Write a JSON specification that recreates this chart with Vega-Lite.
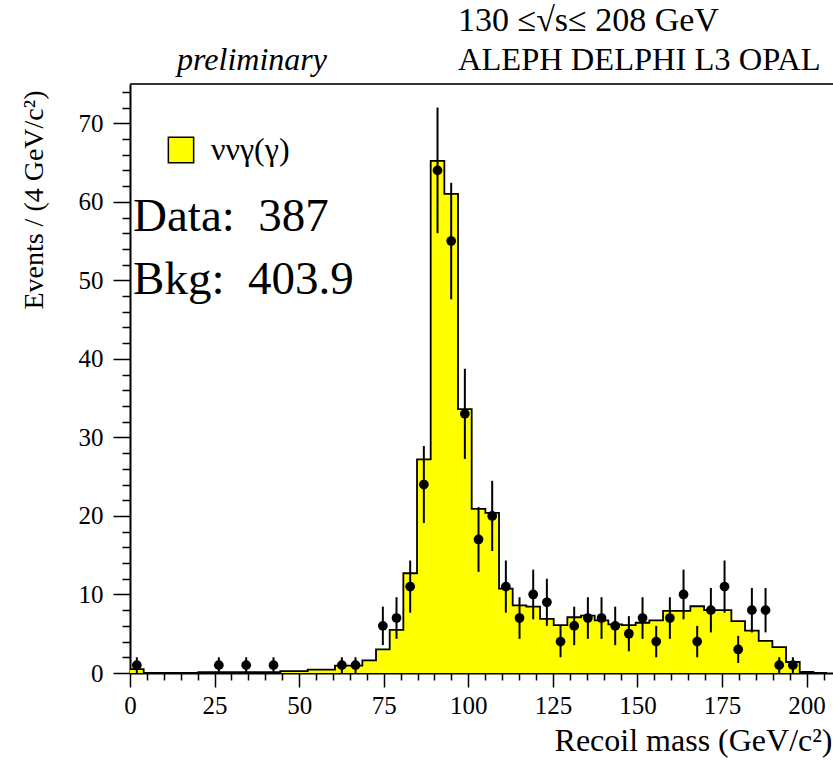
{
  "$schema": "https://vega.github.io/schema/vega-lite/v6.json",
  "width": 703,
  "height": 589,
  "autosize": {"type": "none"},
  "padding": {"left": 130, "top": 84, "right": 0, "bottom": 88},
  "background": "white",
  "config": {
    "view": {"stroke": null},
    "axis": {
      "domainColor": "black", "domainWidth": 2, "tickColor": "black", "tickWidth": 1.5,
      "labelFont": "Liberation Serif", "labelFontSize": 25, "labelColor": "black",
      "titleFont": "Liberation Serif", "titleColor": "black", "titleFontWeight": "normal",
      "grid": false, "labelFlush": false, "labelOverlap": false
    }
  },
  "datasets": {
    "bkg": [
      {"x": 0, "b": 0.5}, {"x": 4.04, "b": 0}, {"x": 8.08, "b": 0}, {"x": 12.12, "b": 0},
      {"x": 16.16, "b": 0}, {"x": 20.2, "b": 0.1}, {"x": 24.24, "b": 0.1}, {"x": 28.28, "b": 0.1},
      {"x": 32.32, "b": 0.1}, {"x": 36.36, "b": 0.1}, {"x": 40.4, "b": 0.1}, {"x": 44.44, "b": 0.25},
      {"x": 48.48, "b": 0.25}, {"x": 52.52, "b": 0.43}, {"x": 56.56, "b": 0.43}, {"x": 60.6, "b": 0.95},
      {"x": 64.64, "b": 0.95}, {"x": 68.68, "b": 1.6}, {"x": 72.72, "b": 3.0}, {"x": 76.76, "b": 5.5},
      {"x": 80.8, "b": 12.7}, {"x": 84.84, "b": 27.2}, {"x": 88.88, "b": 65.2}, {"x": 92.92, "b": 61.0},
      {"x": 96.96, "b": 33.6}, {"x": 101.0, "b": 20.9}, {"x": 105.04, "b": 20.4}, {"x": 109.08, "b": 10.75},
      {"x": 113.12, "b": 8.6}, {"x": 117.16, "b": 8.45}, {"x": 121.2, "b": 6.9}, {"x": 125.24, "b": 6.1},
      {"x": 129.28, "b": 7.1}, {"x": 133.32, "b": 7.3}, {"x": 137.36, "b": 6.7}, {"x": 141.4, "b": 6.2},
      {"x": 145.44, "b": 6.1}, {"x": 149.48, "b": 6.4}, {"x": 153.52, "b": 6.7}, {"x": 157.56, "b": 7.9},
      {"x": 161.6, "b": 7.9}, {"x": 165.64, "b": 8.5}, {"x": 169.68, "b": 8.0}, {"x": 173.72, "b": 8.0},
      {"x": 177.76, "b": 6.6}, {"x": 181.8, "b": 5.4}, {"x": 185.84, "b": 4.1}, {"x": 189.88, "b": 3.3},
      {"x": 193.92, "b": 1.4}, {"x": 197.96, "b": 0.13}, {"x": 202.0, "b": 0}, {"x": 206.04, "b": 0}
    ],
    "obs": [
      {"m": 2.02, "n": 1, "nlo": 0, "nhi": 2}, {"m": 26.26, "n": 1, "nlo": 0, "nhi": 2},
      {"m": 34.34, "n": 1, "nlo": 0, "nhi": 2}, {"m": 42.42, "n": 1, "nlo": 0, "nhi": 2},
      {"m": 62.62, "n": 1, "nlo": 0, "nhi": 2}, {"m": 66.66, "n": 1, "nlo": 0, "nhi": 2},
      {"m": 74.74, "n": 6, "nlo": 3.55, "nhi": 8.45}, {"m": 78.78, "n": 7, "nlo": 4.35, "nhi": 9.65},
      {"m": 82.82, "n": 11, "nlo": 7.68, "nhi": 14.32}, {"m": 86.86, "n": 24, "nlo": 19.1, "nhi": 28.9},
      {"m": 90.9, "n": 64, "nlo": 56, "nhi": 72}, {"m": 94.94, "n": 55, "nlo": 47.58, "nhi": 62.42},
      {"m": 98.98, "n": 33, "nlo": 27.26, "nhi": 38.74}, {"m": 103.02, "n": 17, "nlo": 12.88, "nhi": 21.12},
      {"m": 107.06, "n": 20, "nlo": 15.53, "nhi": 24.47}, {"m": 111.1, "n": 11, "nlo": 7.68, "nhi": 14.32},
      {"m": 115.14, "n": 7, "nlo": 4.35, "nhi": 9.65}, {"m": 119.18, "n": 10, "nlo": 6.84, "nhi": 13.16},
      {"m": 123.22, "n": 9, "nlo": 6, "nhi": 12}, {"m": 127.26, "n": 4, "nlo": 2, "nhi": 6},
      {"m": 131.3, "n": 6, "nlo": 3.55, "nhi": 8.45}, {"m": 135.34, "n": 7, "nlo": 4.35, "nhi": 9.65},
      {"m": 139.38, "n": 7, "nlo": 4.35, "nhi": 9.65}, {"m": 143.42, "n": 6, "nlo": 3.55, "nhi": 8.45},
      {"m": 147.46, "n": 5, "nlo": 2.76, "nhi": 7.24}, {"m": 151.5, "n": 7, "nlo": 4.35, "nhi": 9.65},
      {"m": 155.54, "n": 4, "nlo": 2, "nhi": 6}, {"m": 159.58, "n": 7, "nlo": 4.35, "nhi": 9.65},
      {"m": 163.62, "n": 10, "nlo": 6.84, "nhi": 13.16}, {"m": 167.66, "n": 4, "nlo": 2, "nhi": 6},
      {"m": 171.7, "n": 8, "nlo": 5.17, "nhi": 10.83}, {"m": 175.74, "n": 11, "nlo": 7.68, "nhi": 14.32},
      {"m": 179.78, "n": 3, "nlo": 1.27, "nhi": 4.73}, {"m": 183.82, "n": 8, "nlo": 5.17, "nhi": 10.83},
      {"m": 187.86, "n": 8, "nlo": 5.17, "nhi": 10.83}, {"m": 191.9, "n": 1, "nlo": 0, "nhi": 2},
      {"m": 195.94, "n": 1, "nlo": 0, "nhi": 2}
    ]
  },
  "resolve": {"axis": {"x": "independent", "y": "independent"}},
  "layer": [
    {
      "data": {"name": "bkg"},
      "mark": {"type": "area", "interpolate": "step-after"},
      "encoding": {
        "x": {"field": "x", "type": "quantitative",
              "scale": {"domain": [0, 207.8], "nice": false, "zero": false},
              "axis": {"orient": "bottom", "values": [0, 25, 50, 75, 100, 125, 150, 175, 200], "tickSize": 14, "labelPadding": 6,
                       "title": "Recoil mass (GeV/c²)", "titleFontSize": 32, "titleX": 702, "titleY": 77,
                       "titleAlign": "right", "titleBaseline": "alphabetic"}},
        "y": {"field": "b", "type": "quantitative",
              "scale": {"domain": [0, 75], "nice": false},
              "axis": {"orient": "left", "values": [0, 10, 20, 30, 40, 50, 60, 70], "tickSize": 17, "labelPadding": 10,
                       "title": "Events / (4 GeV/c²)", "titleFontSize": 28, "titleX": -88, "titleY": 6,
                       "titleAngle": -90, "titleAlign": "right", "titleBaseline": "alphabetic"}},
        "fill": {"datum": "ννγ(γ)", "type": "nominal", "scale": {"range": ["#ffff00"]},
                 "legend": {"orient": "none", "legendX": 35, "legendY": 50, "title": null, "symbolType": "square",
                            "symbolSize": 640, "symbolStrokeColor": "black", "symbolStrokeWidth": 1.5,
                            "symbolFillColor": "#ffff00", "labelFont": "Liberation Serif", "labelFontSize": 32,
                            "labelColor": "black", "labelOffset": 14, "padding": 0}}
      }
    },
    {
      "data": {"name": "bkg"},
      "mark": {"type": "line", "interpolate": "step-after", "color": "black", "strokeWidth": 1.8},
      "encoding": {
        "x": {"field": "x", "type": "quantitative",
              "scale": {"domain": [0, 207.8], "nice": false, "zero": false},
              "axis": {"orient": "bottom", "values": [5, 10, 15, 20, 30, 35, 40, 45, 55, 60, 65, 70, 80, 85, 90, 95, 105, 110, 115, 120, 130, 135, 140, 145, 155, 160, 165, 170, 180, 185, 190, 195, 205],
                       "tickSize": 7, "labels": false, "domain": false, "title": null}},
        "y": {"field": "b", "type": "quantitative",
              "scale": {"domain": [0, 75], "nice": false},
              "axis": {"orient": "left", "values": [2, 4, 6, 8, 12, 14, 16, 18, 22, 24, 26, 28, 32, 34, 36, 38, 42, 44, 46, 48, 52, 54, 56, 58, 62, 64, 66, 68, 72, 74],
                       "tickSize": 8, "labels": false, "domain": false, "title": null}}
      }
    },
    {
      "data": {"name": "obs"},
      "mark": {"type": "rule", "color": "black", "strokeWidth": 2},
      "encoding": {
        "x": {"field": "m", "type": "quantitative", "scale": {"domain": [0, 207.8], "nice": false, "zero": false}, "axis": null},
        "y": {"field": "nlo", "type": "quantitative", "scale": {"domain": [0, 75], "nice": false}, "axis": null},
        "y2": {"field": "nhi"}
      }
    },
    {
      "data": {"name": "obs"},
      "mark": {"type": "circle", "color": "black", "opacity": 1, "size": 95},
      "encoding": {
        "x": {"field": "m", "type": "quantitative", "scale": {"domain": [0, 207.8], "nice": false, "zero": false}, "axis": null},
        "y": {"field": "n", "type": "quantitative", "scale": {"domain": [0, 75], "nice": false}, "axis": null}
      }
    },
    {
      "data": {"values": [{}]},
      "mark": {"type": "text", "text": "130 ≤√s≤ 208 GeV", "font": "Liberation Serif", "fontSize": 34, "align": "left", "baseline": "alphabetic", "color": "black"},
      "encoding": {
        "x": {"datum": 96.95, "type": "quantitative", "scale": {"domain": [0, 207.8], "nice": false, "zero": false}, "axis": null},
        "y": {"datum": 81.7, "type": "quantitative", "scale": {"domain": [0, 75], "nice": false}, "axis": null}
      }
    },
    {
      "data": {"values": [{}]},
      "mark": {"type": "text", "text": "ALEPH DELPHI L3 OPAL", "font": "Liberation Serif", "fontSize": 32.5, "align": "left", "baseline": "alphabetic", "color": "black"},
      "encoding": {
        "x": {"datum": 96.95, "type": "quantitative", "scale": {"domain": [0, 207.8], "nice": false, "zero": false}, "axis": null},
        "y": {"datum": 76.78, "type": "quantitative", "scale": {"domain": [0, 75], "nice": false}, "axis": null}
      }
    },
    {
      "data": {"values": [{}]},
      "mark": {"type": "text", "text": "preliminary", "font": "Liberation Serif", "fontStyle": "italic", "fontSize": 32, "align": "left", "baseline": "alphabetic", "color": "black"},
      "encoding": {
        "x": {"datum": 13.9, "type": "quantitative", "scale": {"domain": [0, 207.8], "nice": false, "zero": false}, "axis": null},
        "y": {"datum": 76.78, "type": "quantitative", "scale": {"domain": [0, 75], "nice": false}, "axis": null}
      }
    },
    {
      "data": {"values": [{}]},
      "mark": {"type": "text", "text": "Data:\u00a0\u00a0387", "font": "Liberation Serif", "fontSize": 47, "align": "left", "baseline": "alphabetic", "color": "black"},
      "encoding": {
        "x": {"datum": 0.9, "type": "quantitative", "scale": {"domain": [0, 207.8], "nice": false, "zero": false}, "axis": null},
        "y": {"datum": 56.24, "type": "quantitative", "scale": {"domain": [0, 75], "nice": false}, "axis": null}
      }
    },
    {
      "data": {"values": [{}]},
      "mark": {"type": "text", "text": "Bkg:\u00a0\u00a0403.9", "font": "Liberation Serif", "fontSize": 47, "align": "left", "baseline": "alphabetic", "color": "black"},
      "encoding": {
        "x": {"datum": 0.9, "type": "quantitative", "scale": {"domain": [0, 207.8], "nice": false, "zero": false}, "axis": null},
        "y": {"datum": 48.26, "type": "quantitative", "scale": {"domain": [0, 75], "nice": false}, "axis": null}
      }
    },
    {
      "data": {"values": [{}]},
      "mark": {"type": "rule", "color": "#333333", "strokeWidth": 2},
      "encoding": {
        "x": {"datum": 0, "type": "quantitative", "scale": {"domain": [0, 207.8], "nice": false, "zero": false}, "axis": null},
        "x2": {"datum": 207.8},
        "y": {"datum": 75, "type": "quantitative", "scale": {"domain": [0, 75], "nice": false}, "axis": null}
      }
    }
  ]
}
